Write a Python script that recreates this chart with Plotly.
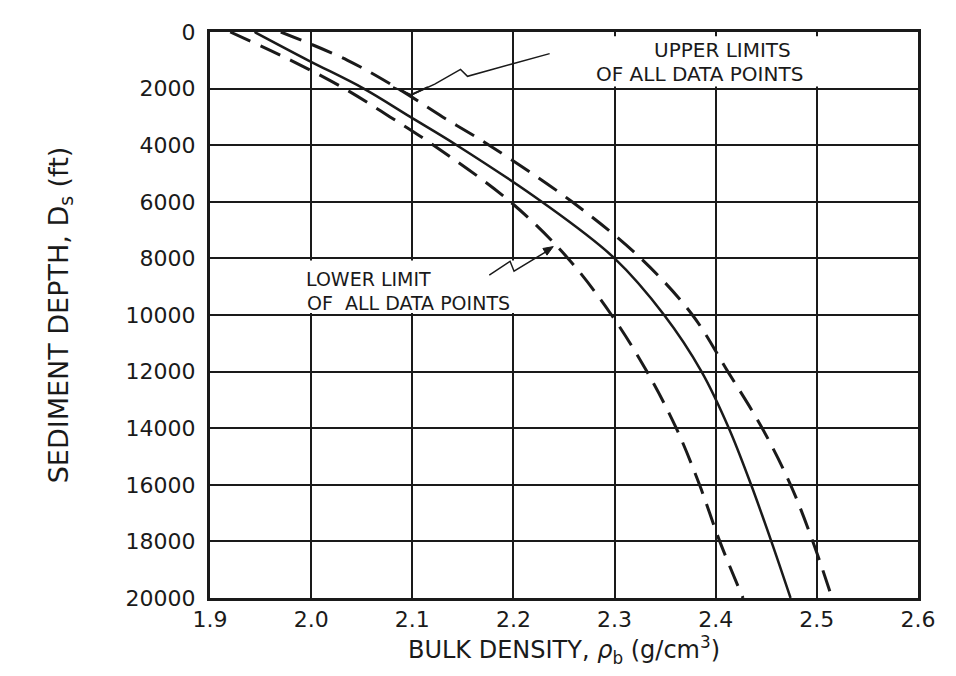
import plotly.graph_objects as go

# ---- data ----
depth_ft = [0, 1000, 2000, 3000, 4000, 6000, 8000, 10000, 12000, 14000, 16000, 18000, 20000]
density_mean = [1.944, 1.997, 2.052, 2.098, 2.144, 2.228, 2.300, 2.349, 2.386, 2.413, 2.435, 2.455, 2.474]
density_upper = [1.970, 2.036, 2.086, 2.130, 2.176, 2.258, 2.326, 2.377, 2.412, 2.446, 2.474, 2.496, 2.515]
density_lower = [1.920, 1.980, 2.033, 2.078, 2.121, 2.197, 2.254, 2.297, 2.332, 2.361, 2.384, 2.404, 2.427]

x_ticks = [1.9, 2.0, 2.1, 2.2, 2.3, 2.4, 2.5, 2.6]
x_tick_labels = ["1.9", "2.0", "2.1", "2.2", "2.3", "2.4", "2.5", "2.6"]
y_ticks = [0, 2000, 4000, 6000, 8000, 10000, 12000, 14000, 16000, 18000, 20000]
y_tick_labels = [str(v) for v in y_ticks]

label_upper = ["UPPER LIMITS", "OF ALL DATA POINTS"]
label_lower = ["LOWER LIMIT", "OF  ALL DATA POINTS"]

FONT = "DejaVu Sans"
INK = "#1a1a1a"

fig = go.Figure()

fig.add_trace(go.Scatter(x=density_lower, y=depth_ft, mode="lines", name="Lower limit",
                         line=dict(color=INK, width=3, dash="22px,11px", shape="spline")))
fig.add_trace(go.Scatter(x=density_mean, y=depth_ft, mode="lines", name="Mean",
                         line=dict(color=INK, width=2.5, shape="spline")))
fig.add_trace(go.Scatter(x=density_upper, y=depth_ft, mode="lines", name="Upper limits",
                         line=dict(color=INK, width=3, dash="22px,11px", shape="spline")))

# white label boxes (cover the grid, under the curves)
fig.add_shape(type="rect", xref="x", yref="y", x0=2.206, x1=2.596, y0=150, y1=1930,
              fillcolor="white", line=dict(width=0), layer="between")
fig.add_shape(type="rect", xref="x", yref="y", x0=1.904, x1=2.29, y0=8070, y1=9930,
              fillcolor="white", line=dict(width=0), layer="between")

# label texts
fig.add_annotation(x=2.407, y=640, xref="x", yref="y", text=label_upper[0], showarrow=False,
                   font=dict(family=FONT, size=20, color=INK))
fig.add_annotation(x=2.384, y=1480, xref="x", yref="y", text=label_upper[1], showarrow=False,
                   font=dict(family=FONT, size=20, color=INK))
fig.add_annotation(x=2.057, y=8740, xref="x", yref="y", text=label_lower[0], showarrow=False,
                   font=dict(family=FONT, size=19, color=INK))
fig.add_annotation(x=2.096, y=9560, xref="x", yref="y", text=label_lower[1], showarrow=False,
                   font=dict(family=FONT, size=19, color=INK))

# leader lines
fig.add_shape(type="path", xref="x", yref="y",
              path="M 2.2358,765 L 2.1967,1148 L 2.1546,1565 L 2.1477,1322 L 2.1222,1843 L 2.0987,2226",
              line=dict(color=INK, width=1.5), layer="above")
fig.add_shape(type="path", xref="x", yref="y",
              path="M 2.0811,1948 L 2.0987,2226 L 2.1154,1948",
              line=dict(color=INK, width=2), layer="above")
fig.add_shape(type="path", xref="x", yref="y",
              path="M 2.1761,8591 L 2.1967,8104 L 2.2006,8452 L 2.2320,7770",
              line=dict(color=INK, width=1.5), layer="above")
fig.add_shape(type="path", xref="x", yref="y",
              path="M 2.2394,7583 L 2.2332,7885 L 2.2291,7649 Z",
              fillcolor=INK, line=dict(color=INK, width=1), layer="above")

fig.update_layout(
    width=940, height=660,
    margin=dict(l=202, r=23, t=19, b=66),
    paper_bgcolor="white", plot_bgcolor="white",
    showlegend=False,
    font=dict(family=FONT, color=INK),
)
fig.update_xaxes(
    range=[1.9, 2.6], tickvals=x_ticks, ticktext=x_tick_labels,
    showgrid=True, gridcolor=INK, gridwidth=2, zeroline=False,
    showline=True, linecolor=INK, linewidth=3, mirror=True, ticks="",
    tickfont=dict(family=FONT, size=22, color=INK), ticklabelstandoff=0,
    title=dict(text="BULK DENSITY, <i>ρ</i><sub>b</sub> (g/cm<sup>3</sup>)",
               font=dict(family=FONT, size=24, color=INK), standoff=7),
)
fig.update_yaxes(
    range=[20000, 0], tickvals=y_ticks, ticktext=y_tick_labels,
    showgrid=True, gridcolor=INK, gridwidth=2, zeroline=False,
    showline=True, linecolor=INK, linewidth=3, mirror=True, ticks="",
    tickfont=dict(family=FONT, size=22, color=INK), ticklabelstandoff=7,
    title=dict(text="SEDIMENT DEPTH, D<sub>s</sub> (ft)",
               font=dict(family=FONT, size=27, color=INK), standoff=50),
)

fig.write_html("out.html")
